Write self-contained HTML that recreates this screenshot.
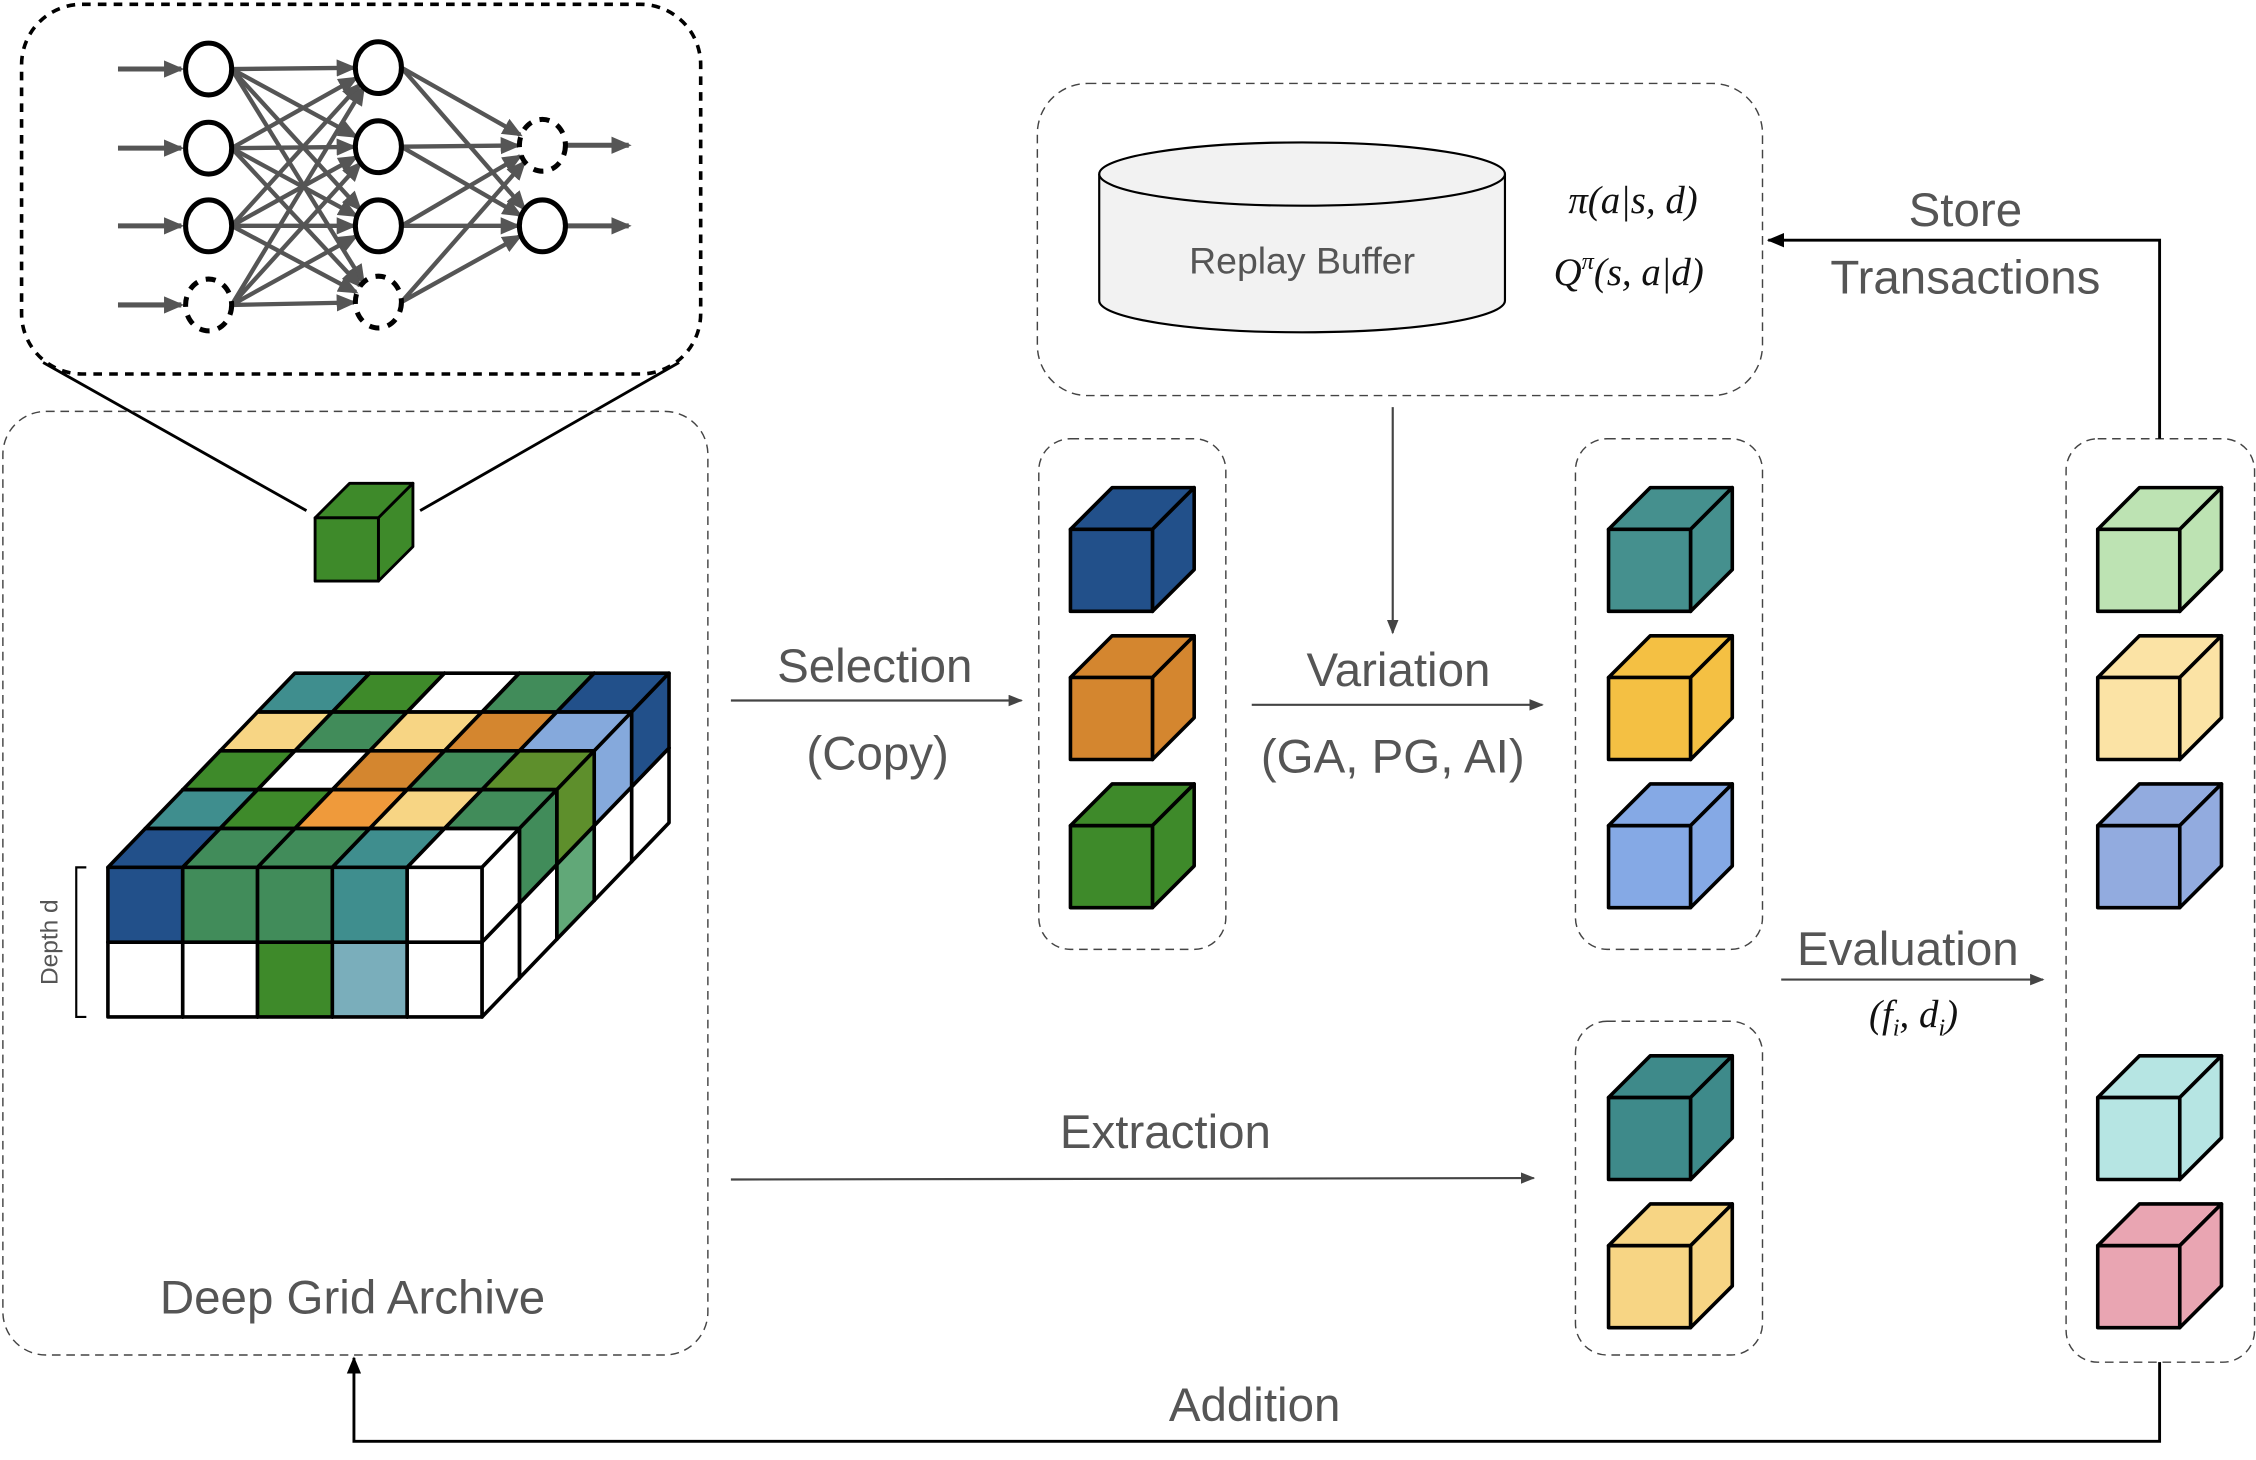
<!DOCTYPE html>
<html><head><meta charset="utf-8"><style>
html,body{margin:0;padding:0;background:#fff;}
svg{display:block;}
.lbl{font-family:"Liberation Sans",sans-serif;fill:#555;font-size:33px;text-anchor:middle;}
.math{font-family:"Liberation Serif",serif;font-style:italic;fill:#111;font-size:27px;text-anchor:middle;}
</style></head><body>
<svg id="s" width="2256" height="1460" viewBox="0 0 1568 1015" preserveAspectRatio="none" xmlns="http://www.w3.org/2000/svg">
<defs>
<marker id="ah" markerWidth="10" markerHeight="8" refX="9" refY="4" orient="auto" markerUnits="userSpaceOnUse"><path d="M0,0 L10,4 L0,8 z" fill="#444"/></marker>
<marker id="ahk" markerWidth="12" markerHeight="10" refX="11" refY="5" orient="auto" markerUnits="userSpaceOnUse"><path d="M0,0 L12,5 L0,10 z" fill="#000"/></marker>
<marker id="nn" markerWidth="14" markerHeight="12" refX="12" refY="6" orient="auto" markerUnits="userSpaceOnUse"><path d="M0,0 L14,6 L0,12 z" fill="#555"/></marker>
</defs>
<rect x="15" y="3" width="472" height="257" rx="42" fill="none" stroke="#000" stroke-width="2.5" stroke-dasharray="6,5"/>
<line x1="30" y1="252" x2="213" y2="355" stroke="#000" stroke-width="2"/>
<line x1="472" y1="252" x2="292" y2="355" stroke="#000" stroke-width="2"/>
<g id="nnet"></g>
<rect x="2" y="286" width="490" height="656" rx="30" fill="none" stroke="#444" stroke-width="1" stroke-dasharray="6,4"/>
<g id="grid"></g>
<text x="40" y="655" transform="rotate(-90 40 655)" font-family="Liberation Sans,sans-serif" font-size="17" fill="#555" text-anchor="middle">Depth d</text>
<path d="M60,603 L53,603 L53,707 L60,707" fill="none" stroke="#000" stroke-width="1.5"/>
<text class="lbl" x="245" y="913">Deep Grid Archive</text>
<rect x="721" y="58" width="504" height="217" rx="35" fill="none" stroke="#444" stroke-width="1" stroke-dasharray="6,4"/>
<path d="M764,121 L764,209 A141,22 0 0 0 1046,209 L1046,121" fill="#f2f2f2" stroke="#000" stroke-width="1.5"/>
<ellipse cx="905" cy="121" rx="141" ry="22" fill="#f2f2f2" stroke="#000" stroke-width="1.5"/>
<text x="905" y="190" font-family="Liberation Sans,sans-serif" font-size="26" fill="#555" text-anchor="middle">Replay Buffer</text>
<text class="math" x="1135" y="148">π(a|s, d)</text>
<text class="math" x="1132" y="198">Q<tspan font-size="17" dy="-11">π</tspan><tspan dy="11">(s, a|d)</tspan></text>
<line x1="968" y1="283" x2="968" y2="440" stroke="#444" stroke-width="1.5" marker-end="url(#ah)"/>
<rect x="722" y="305" width="130" height="355" rx="22" fill="none" stroke="#444" stroke-width="1" stroke-dasharray="6,4"/>
<rect x="1095" y="305" width="130" height="355" rx="22" fill="none" stroke="#444" stroke-width="1" stroke-dasharray="6,4"/>
<rect x="1095" y="710" width="130" height="232" rx="22" fill="none" stroke="#444" stroke-width="1" stroke-dasharray="6,4"/>
<rect x="1436" y="305" width="131" height="642" rx="22" fill="none" stroke="#444" stroke-width="1" stroke-dasharray="6,4"/>
<g id="cubes"></g>
<line x1="508" y1="487" x2="710" y2="487" stroke="#444" stroke-width="1.5" marker-end="url(#ah)"/>
<text class="lbl" x="608" y="474">Selection</text>
<text class="lbl" x="610" y="535">(Copy)</text>
<line x1="870" y1="490" x2="1072" y2="490" stroke="#444" stroke-width="1.5" marker-end="url(#ah)"/>
<text class="lbl" x="972" y="477">Variation</text>
<text class="lbl" x="968" y="537">(GA, PG, AI)</text>
<line x1="1238" y1="681" x2="1420" y2="681" stroke="#444" stroke-width="1.5" marker-end="url(#ah)"/>
<text class="lbl" x="1326" y="671">Evaluation</text>
<text class="math" x="1330" y="714">(f<tspan font-size="17" dy="6">i</tspan><tspan dy="-6">, d</tspan><tspan font-size="17" dy="6">i</tspan><tspan dy="-6">)</tspan></text>
<line x1="508" y1="820" x2="1066" y2="819" stroke="#444" stroke-width="1.5" marker-end="url(#ah)"/>
<text class="lbl" x="810" y="798">Extraction</text>
<polyline points="1501,305 1501,167 1229,167" fill="none" stroke="#000" stroke-width="2" marker-end="url(#ahk)"/>
<text class="lbl" x="1366" y="157">Store</text>
<text class="lbl" x="1366" y="204">Transactions</text>
<polyline points="1501,947 1501,1002 246,1002 246,944" fill="none" stroke="#000" stroke-width="2" marker-end="url(#ahk)"/>
<text class="lbl" x="872" y="988">Addition</text>
</svg>
<script>
(function(){
var NS="http://www.w3.org/2000/svg";
function el(p,t,a){var e=document.createElementNS(NS,t);for(var k in a)e.setAttribute(k,a[k]);p.appendChild(e);return e;}
function ext(a,b){var o={};for(var k in a)o[k]=a[k];for(var k2 in b)o[k2]=b[k2];return o;}
function cube(g,x,y,s,dx,dy,c,sw){
 var a={fill:c,stroke:"#000","stroke-width":sw||2.5,"stroke-linejoin":"round"};
 el(g,"polygon",ext(a,{points:[x,y,x+dx,y-dy,x+s+dx,y-dy,x+s,y].join(",")}));
 el(g,"polygon",ext(a,{points:[x+s,y,x+s+dx,y-dy,x+s+dx,y+s-dy,x+s,y+s].join(",")}));
 el(g,"rect",ext(a,{x:x,y:y,width:s,height:s}));
}
var cg=document.getElementById("cubes");
var cols=[[744,[["#22508a",368],["#d4862f",471],["#3e8a2a",574]]],
 [1118,[["#45908e",368],["#f4c043",471],["#85a9e5",574],["#3e8a8a",763],["#f7d584",866]]],
 [1458,[["#bde3b3",368],["#fbe3a5",471],["#92abdf",574],["#b6e5e3",763],["#e9a5b2",866]]]];
cols.forEach(function(c){c[1].forEach(function(q){cube(cg,c[0],q[1],57,29,29,q[0],2.5);});});
cube(cg,219,360,44,24,24,"#3e8a2a",2);
var gg=document.getElementById("grid");
var topC=[["#22508a","#418c5a","#418c5a","#3f8e8e","#ffffff"],
["#3f8e8e","#3e8a2a","#ef9a3b","#f7d584","#418c5a"],
["#3e8a2a","#ffffff","#d4862f","#418c5a","#5e8f2c"],
["#f7d584","#418c5a","#f7d584","#d4862f","#85a9dc"],
["#3f8e8e","#3e8a2a","#ffffff","#418c5a","#22508a"]];
var botC=[["#fff","#fff","#3e8a2a","#7aaebb","#fff"],
["#fff","#fff","#fff","#fff","#fff"],
["#fff","#fff","#fff","#fff","#61a878"],
["#fff","#fff","#fff","#fff","#fff"],
["#fff","#fff","#fff","#fff","#fff"]];
var s=52,dx=26,dy=27;
for(var r=4;r>=0;r--){for(var L=0;L<2;L++){for(var c=0;c<5;c++){
 var x=75+s*c+dx*r,y=(L==0?655:603)-dy*r;
 cube(gg,x,y,s,dx,dy,L==0?botC[r][c]:topC[r][c],2.5);
}}}
var ng=document.getElementById("nnet");
var l1=[[145,48,0],[145,103,0],[145,157,0],[145,212,1]],l2=[[263,47,0],[263,102,0],[263,157,0],[263,210,1]],l3=[[377,101,1],[377,157,0]];
function conn(A,B){A.forEach(function(a){B.forEach(function(b){
 var ang=Math.atan2(b[1]-a[1],b[0]-a[0]);
 el(ng,"line",{x1:a[0]+16,y1:a[1],x2:b[0]-16*Math.cos(ang)-1,y2:b[1]-17*Math.sin(ang),stroke:"#555","stroke-width":3,"marker-end":"url(#nn)"});
});});}
conn(l1,l2);conn(l2,l3);
l1.forEach(function(a){el(ng,"line",{x1:82,y1:a[1],x2:126,y2:a[1],stroke:"#555","stroke-width":3.5,"marker-end":"url(#nn)"});});
l3.forEach(function(a){el(ng,"line",{x1:393,y1:a[1],x2:437,y2:a[1],stroke:"#555","stroke-width":3.5,"marker-end":"url(#nn)"});});
[l1,l2,l3].forEach(function(Ly){Ly.forEach(function(a){
 var o={cx:a[0],cy:a[1],rx:16,ry:18,fill:a[2]?"none":"#fff",stroke:"#000","stroke-width":3.5};
 if(a[2])o["stroke-dasharray"]="7,6";
 el(ng,"ellipse",o);
});});
})();
</script>
</body></html>
